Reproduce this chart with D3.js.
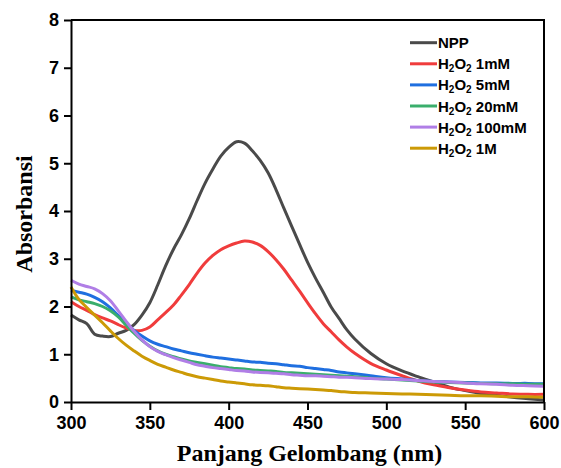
<!DOCTYPE html>
<html>
<head>
<meta charset="utf-8">
<script src="https://cdn.jsdelivr.net/npm/d3@7"></script>
<style>
  body { margin: 0; background: #fff; }
  .tick text { font-family: "Liberation Sans", Arial, sans-serif; font-weight: bold; font-size: 18px; fill: #000; }
  .axis-title { font-family: "Liberation Serif", "Times New Roman", serif; font-weight: bold; font-size: 24px; fill: #000; }
  .legend text { font-family: "Liberation Sans", Arial, sans-serif; font-weight: bold; font-size: 15px; fill: #000; }
</style>
</head>
<body>
<div id="chart"></div>
<script>
// wavelength grid (nm)
let wavelengths = [300, 305, 310, 315, 320, 325, 330, 335, 340, 345, 350, 355, 360, 365, 370, 375,
  380, 385, 390, 395, 400, 405, 410, 415, 420, 425, 430, 435, 440, 445, 450, 455, 460, 465, 470, 475,
  480, 490, 500, 510, 520, 530, 540, 550, 560, 570, 580, 590, 600];

let npp = [1.82, 1.72, 1.64, 1.42, 1.38, 1.37, 1.44, 1.50, 1.62, 1.82, 2.08, 2.45, 2.85, 3.20, 3.50, 3.84,
  4.22, 4.58, 4.88, 5.15, 5.33, 5.45, 5.42, 5.26, 5.06, 4.80, 4.45, 4.06, 3.68, 3.30, 2.93, 2.60, 2.30, 1.99, 1.75, 1.51,
  1.32, 1.02, 0.80, 0.65, 0.53, 0.42, 0.31, 0.24, 0.18, 0.14, 0.10, 0.07, 0.04];

let h2o2_1mM = [2.10, 2.00, 1.92, 1.83, 1.76, 1.70, 1.62, 1.55, 1.50, 1.50, 1.57, 1.72, 1.87, 2.03, 2.24, 2.46,
  2.70, 2.91, 3.07, 3.19, 3.27, 3.33, 3.37, 3.35, 3.28, 3.15, 2.98, 2.78, 2.55, 2.32, 2.08, 1.85, 1.64, 1.47, 1.30, 1.15,
  1.02, 0.81, 0.67, 0.55, 0.44, 0.36, 0.30, 0.25, 0.21, 0.19, 0.17, 0.16, 0.16];

let h2o2_5mM = [2.34, 2.30, 2.26, 2.19, 2.10, 1.97, 1.81, 1.65, 1.50, 1.38, 1.28, 1.21, 1.16, 1.11, 1.07, 1.03,
  1.00, 0.97, 0.94, 0.92, 0.90, 0.88, 0.86, 0.84, 0.83, 0.81, 0.80, 0.78, 0.76, 0.75, 0.72, 0.70, 0.68, 0.66, 0.63, 0.61,
  0.59, 0.55, 0.51, 0.48, 0.45, 0.43, 0.42, 0.41, 0.40, 0.40, 0.39, 0.39, 0.38];

let h2o2_20mM = [2.20, 2.14, 2.10, 2.06, 2.00, 1.91, 1.78, 1.61, 1.44, 1.29, 1.17, 1.07, 1.00, 0.95, 0.90, 0.86,
  0.83, 0.80, 0.77, 0.74, 0.72, 0.70, 0.69, 0.67, 0.66, 0.65, 0.64, 0.62, 0.61, 0.60, 0.59, 0.58, 0.57, 0.56, 0.55, 0.54,
  0.53, 0.50, 0.48, 0.46, 0.44, 0.42, 0.41, 0.40, 0.39, 0.38, 0.38, 0.37, 0.37];

let h2o2_100mM = [2.55, 2.47, 2.42, 2.37, 2.27, 2.12, 1.91, 1.69, 1.48, 1.30, 1.16, 1.06, 0.99, 0.93, 0.88, 0.83,
  0.78, 0.75, 0.72, 0.70, 0.68, 0.66, 0.65, 0.63, 0.62, 0.61, 0.60, 0.59, 0.57, 0.56, 0.55, 0.55, 0.54, 0.53, 0.52, 0.52,
  0.51, 0.49, 0.48, 0.47, 0.45, 0.43, 0.42, 0.40, 0.38, 0.37, 0.35, 0.34, 0.33];

let h2o2_1M = [2.41, 2.15, 1.98, 1.82, 1.66, 1.49, 1.33, 1.19, 1.07, 0.96, 0.87, 0.79, 0.73, 0.67, 0.62, 0.57,
  0.53, 0.50, 0.47, 0.44, 0.42, 0.40, 0.38, 0.36, 0.35, 0.34, 0.32, 0.30, 0.29, 0.28, 0.27, 0.26, 0.25, 0.24, 0.22, 0.21,
  0.20, 0.19, 0.18, 0.17, 0.16, 0.15, 0.14, 0.13, 0.13, 0.12, 0.11, 0.11, 0.10];

let seriesNames = ["NPP", "1mM", "5mM", "20mM", "100mM", "1M"];
let seriesValues = [npp, h2o2_1mM, h2o2_5mM, h2o2_20mM, h2o2_100mM, h2o2_1M];
let colors = ["#4a4a4a", "#f03c3c", "#1f6fe0", "#3aae6c", "#b07ee6", "#cc9a06"];

let xTicks = [300, 350, 400, 450, 500, 550, 600];
let yTicks = [0, 1, 2, 3, 4, 5, 6, 7, 8];

let width = 561;
let height = 468;
let margin = { top: 20, right: 17, bottom: 66, left: 71 };

let data = seriesNames.map((name, i) => ({
  name: name,
  color: colors[i],
  values: wavelengths.map((w, j) => ({ nm: w, abs: seriesValues[i][j] }))
}));

/* Scale */
let xScale = d3.scaleLinear()
  .domain([300, 600])
  .range([margin.left, width - margin.right]);

let yScale = d3.scaleLinear()
  .domain([0, 8])
  .range([height - margin.bottom, margin.top]);

/* Add SVG */
let svg = d3.select("#chart")
  .append("svg")
  .attr("width", width)
  .attr("height", height);

/* Lines */
let line = d3.line()
  .x(d => xScale(d.nm))
  .y(d => yScale(d.abs))
  .curve(d3.curveCatmullRom.alpha(0.5));

svg.append("g")
  .attr("class", "lines")
  .selectAll("path")
  .data(data)
  .enter()
  .append("path")
  .attr("d", d => line(d.values))
  .attr("fill", "none")
  .attr("stroke", d => d.color)
  .attr("stroke-width", 3)
  .attr("stroke-linejoin", "round");

/* Frame (top + right) */
svg.append("path")
  .attr("d", `M${margin.left},${margin.top}H${width - margin.right}V${height - margin.bottom}`)
  .attr("fill", "none")
  .attr("stroke", "#000")
  .attr("stroke-width", 2);

/* Axes */
let xAxis = d3.axisBottom(xScale).tickValues(xTicks).tickSize(8).tickPadding(6).tickSizeOuter(0);
let yAxis = d3.axisLeft(yScale).tickValues(yTicks).tickSize(7).tickPadding(5).tickSizeOuter(0);

let gx = svg.append("g")
  .attr("transform", `translate(0, ${height - margin.bottom})`)
  .call(xAxis);

let gy = svg.append("g")
  .attr("transform", `translate(${margin.left}, 0)`)
  .call(yAxis);

[gx, gy].forEach(g => {
  g.select(".domain").attr("stroke-width", 2).attr("stroke", "#000");
  g.selectAll(".tick line").attr("stroke-width", 2).attr("stroke", "#000");
});

svg.append("text")
  .attr("class", "axis-title")
  .attr("x", (margin.left + width - margin.right) / 2 + 2)
  .attr("y", 461)
  .attr("text-anchor", "middle")
  .text("Panjang Gelombang (nm)");

svg.append("text")
  .attr("class", "axis-title")
  .attr("transform", `translate(32, ${(margin.top + height - margin.bottom) / 2 + 3}) rotate(-90)`)
  .attr("text-anchor", "middle")
  .text("Absorbansi");

/* Legend */
const legend = svg.append("g").attr("class", "legend");

const lg = legend.selectAll("g")
  .data(data)
  .enter()
  .append("g")
  .attr("transform", (d, i) => `translate(410, ${42.7 + i * 21.1})`);

lg.append("line")
  .attr("x1", 0)
  .attr("x2", 27)
  .attr("stroke", d => d.color)
  .attr("stroke-width", 3);

lg.append("text")
  .attr("x", 28)
  .attr("y", 5.5)
  .each(function(d) {
    let t = d3.select(this);
    if (d.name === "NPP") {
      t.text("NPP");
      return;
    }
    t.append("tspan").text("H");
    t.append("tspan").attr("font-size", "10px").attr("dy", 3).text("2");
    t.append("tspan").attr("dy", -3).text("O");
    t.append("tspan").attr("font-size", "10px").attr("dy", 3).text("2");
    t.append("tspan").attr("dy", -3).text(" " + d.name);
  });
</script>
</body>
</html>
